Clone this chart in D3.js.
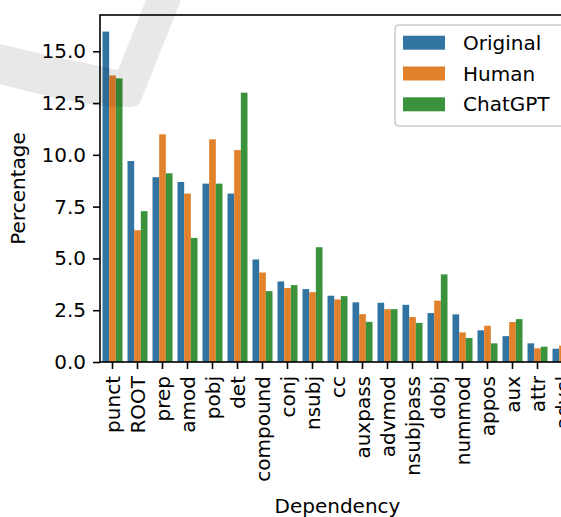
<!DOCTYPE html>
<html>
<head>
<meta charset="utf-8">
<script src="https://cdn.jsdelivr.net/npm/d3@7"></script>
<style>
  html, body { margin: 0; padding: 0; background: #fff; }
  svg { display: block; font-family: "DejaVu Sans", sans-serif; }
</style>
</head>
<body>
<svg id="chart" width="561" height="517"></svg>
<script>
// Dependency label distribution (percent) per text source
const categories = ["punct", "ROOT", "prep", "amod", "pobj", "det", "compound", "conj", "nsubj", "cc",
  "auxpass", "advmod", "nsubjpass", "dobj", "nummod", "appos", "aux", "attr", "advcl"];
const seriesNames = ["Original", "Human", "ChatGPT"];
const original = [15.95, 9.70, 8.92, 8.69, 8.61, 8.13, 4.95, 3.89, 3.52, 3.20,
  2.88, 2.86, 2.76, 2.36, 2.30, 1.53, 1.25, 0.90, 0.64];
const human = [13.83, 6.36, 10.99, 8.13, 10.75, 10.23, 4.32, 3.57, 3.37, 3.02,
  2.31, 2.55, 2.17, 2.96, 1.43, 1.75, 1.93, 0.66, 0.79];
const chatgpt = [13.69, 7.28, 9.11, 5.99, 8.61, 13.00, 3.42, 3.71, 5.54, 3.18,
  1.94, 2.55, 1.89, 4.23, 1.16, 0.90, 2.07, 0.74, 0.70];
const yTicks = [0, 2.5, 5, 7.5, 10, 12.5, 15];
const colors = ["#3274a1", "#e1812c", "#3a923a"];

const series = [original, human, chatgpt];
const svg = d3.select("#chart");

const plot = { left: 100, top: 15, right: 575, bottom: 362 };
const fontSize = 20;

const x = d3.scaleBand().domain(categories).range([plot.left, plot.right]).padding(0);
const y = d3.scaleLinear().domain([0, 16.75]).range([plot.bottom, plot.top]);
const hue = d3.scaleBand().domain(seriesNames).range([0, x.bandwidth() * 0.8]);

// grouped bars
const groups = svg.append("g")
  .selectAll("g")
  .data(series)
  .join("g")
  .attr("fill", (d, i) => colors[i]);

groups.selectAll("rect")
  .data((vals, si) => vals.map((v, ci) => ({ v, c: categories[ci], s: seriesNames[si] })))
  .join("rect")
  .attr("x", d => x(d.c) + x.bandwidth() * 0.1 + hue(d.s))
  .attr("width", hue.bandwidth())
  .attr("y", d => y(d.v))
  .attr("height", d => y(0) - y(d.v));

// axes
const yAxis = d3.axisLeft(y).tickValues(yTicks).tickFormat(d3.format(".1f"))
  .tickSizeInner(7).tickSizeOuter(0).tickPadding(7);
const xAxis = d3.axisBottom(x).tickSizeInner(7).tickSizeOuter(0).tickPadding(7);

const gy = svg.append("g").attr("transform", `translate(${plot.left},0)`).call(yAxis);
const gx = svg.append("g").attr("transform", `translate(0,${plot.bottom})`).call(xAxis);

[gx, gy].forEach(g => {
  g.select(".domain").remove();
  g.selectAll(".tick line").attr("stroke", "#000").attr("stroke-width", 1.6);
  g.selectAll(".tick text").attr("fill", "#000")
    .style("font-size", fontSize + "px").style("font-family", "DejaVu Sans, sans-serif");
});

gx.selectAll(".tick text")
  .attr("transform", "rotate(-90)")
  .attr("text-anchor", "end")
  .attr("x", -14)
  .attr("y", 0)
  .attr("dy", "0.35em");

// frame
const spine = svg.append("g").attr("stroke", "#000").attr("stroke-width", 1.6).attr("fill", "none");
spine.append("rect")
  .attr("x", plot.left).attr("y", plot.top)
  .attr("width", plot.right - plot.left).attr("height", plot.bottom - plot.top);

// axis titles
svg.append("text")
  .attr("x", (plot.left + plot.right) / 2)
  .attr("y", 513)
  .attr("text-anchor", "middle")
  .style("font-size", fontSize + "px")
  .text("Dependency");

svg.append("text")
  .attr("transform", `translate(25,${(plot.top + plot.bottom) / 2}) rotate(-90)`)
  .attr("text-anchor", "middle")
  .style("font-size", fontSize + "px")
  .text("Percentage");

// legend
const legend = svg.append("g").attr("transform", "translate(395,25)");
legend.append("rect")
  .attr("width", 172).attr("height", 101).attr("rx", 4)
  .attr("fill", "#fff").attr("fill-opacity", 0.8)
  .attr("stroke", "#cccccc").attr("stroke-width", 1.6);
const rows = legend.selectAll("g.row")
  .data(seriesNames)
  .join("g")
  .attr("class", "row")
  .attr("transform", (d, i) => `translate(8,${17.7 + i * 30.8})`);
rows.append("rect")
  .attr("y", -7).attr("width", 42).attr("height", 14)
  .attr("fill", (d, i) => colors[i]);
rows.append("text")
  .attr("x", 60).attr("dy", "0.35em")
  .style("font-size", fontSize + "px")
  .text(d => d);

// faint check-mark overlay
svg.append("path")
  .attr("d", "M0,44 L60,58 Q100,66 118,70 L146,0 L181,0 L140,103 Q137,107 128,107 L100,106 Q50,98 0,84 Z")
  .attr("fill", "#000")
  .attr("fill-opacity", 0.09);
</script>
</body>
</html>
